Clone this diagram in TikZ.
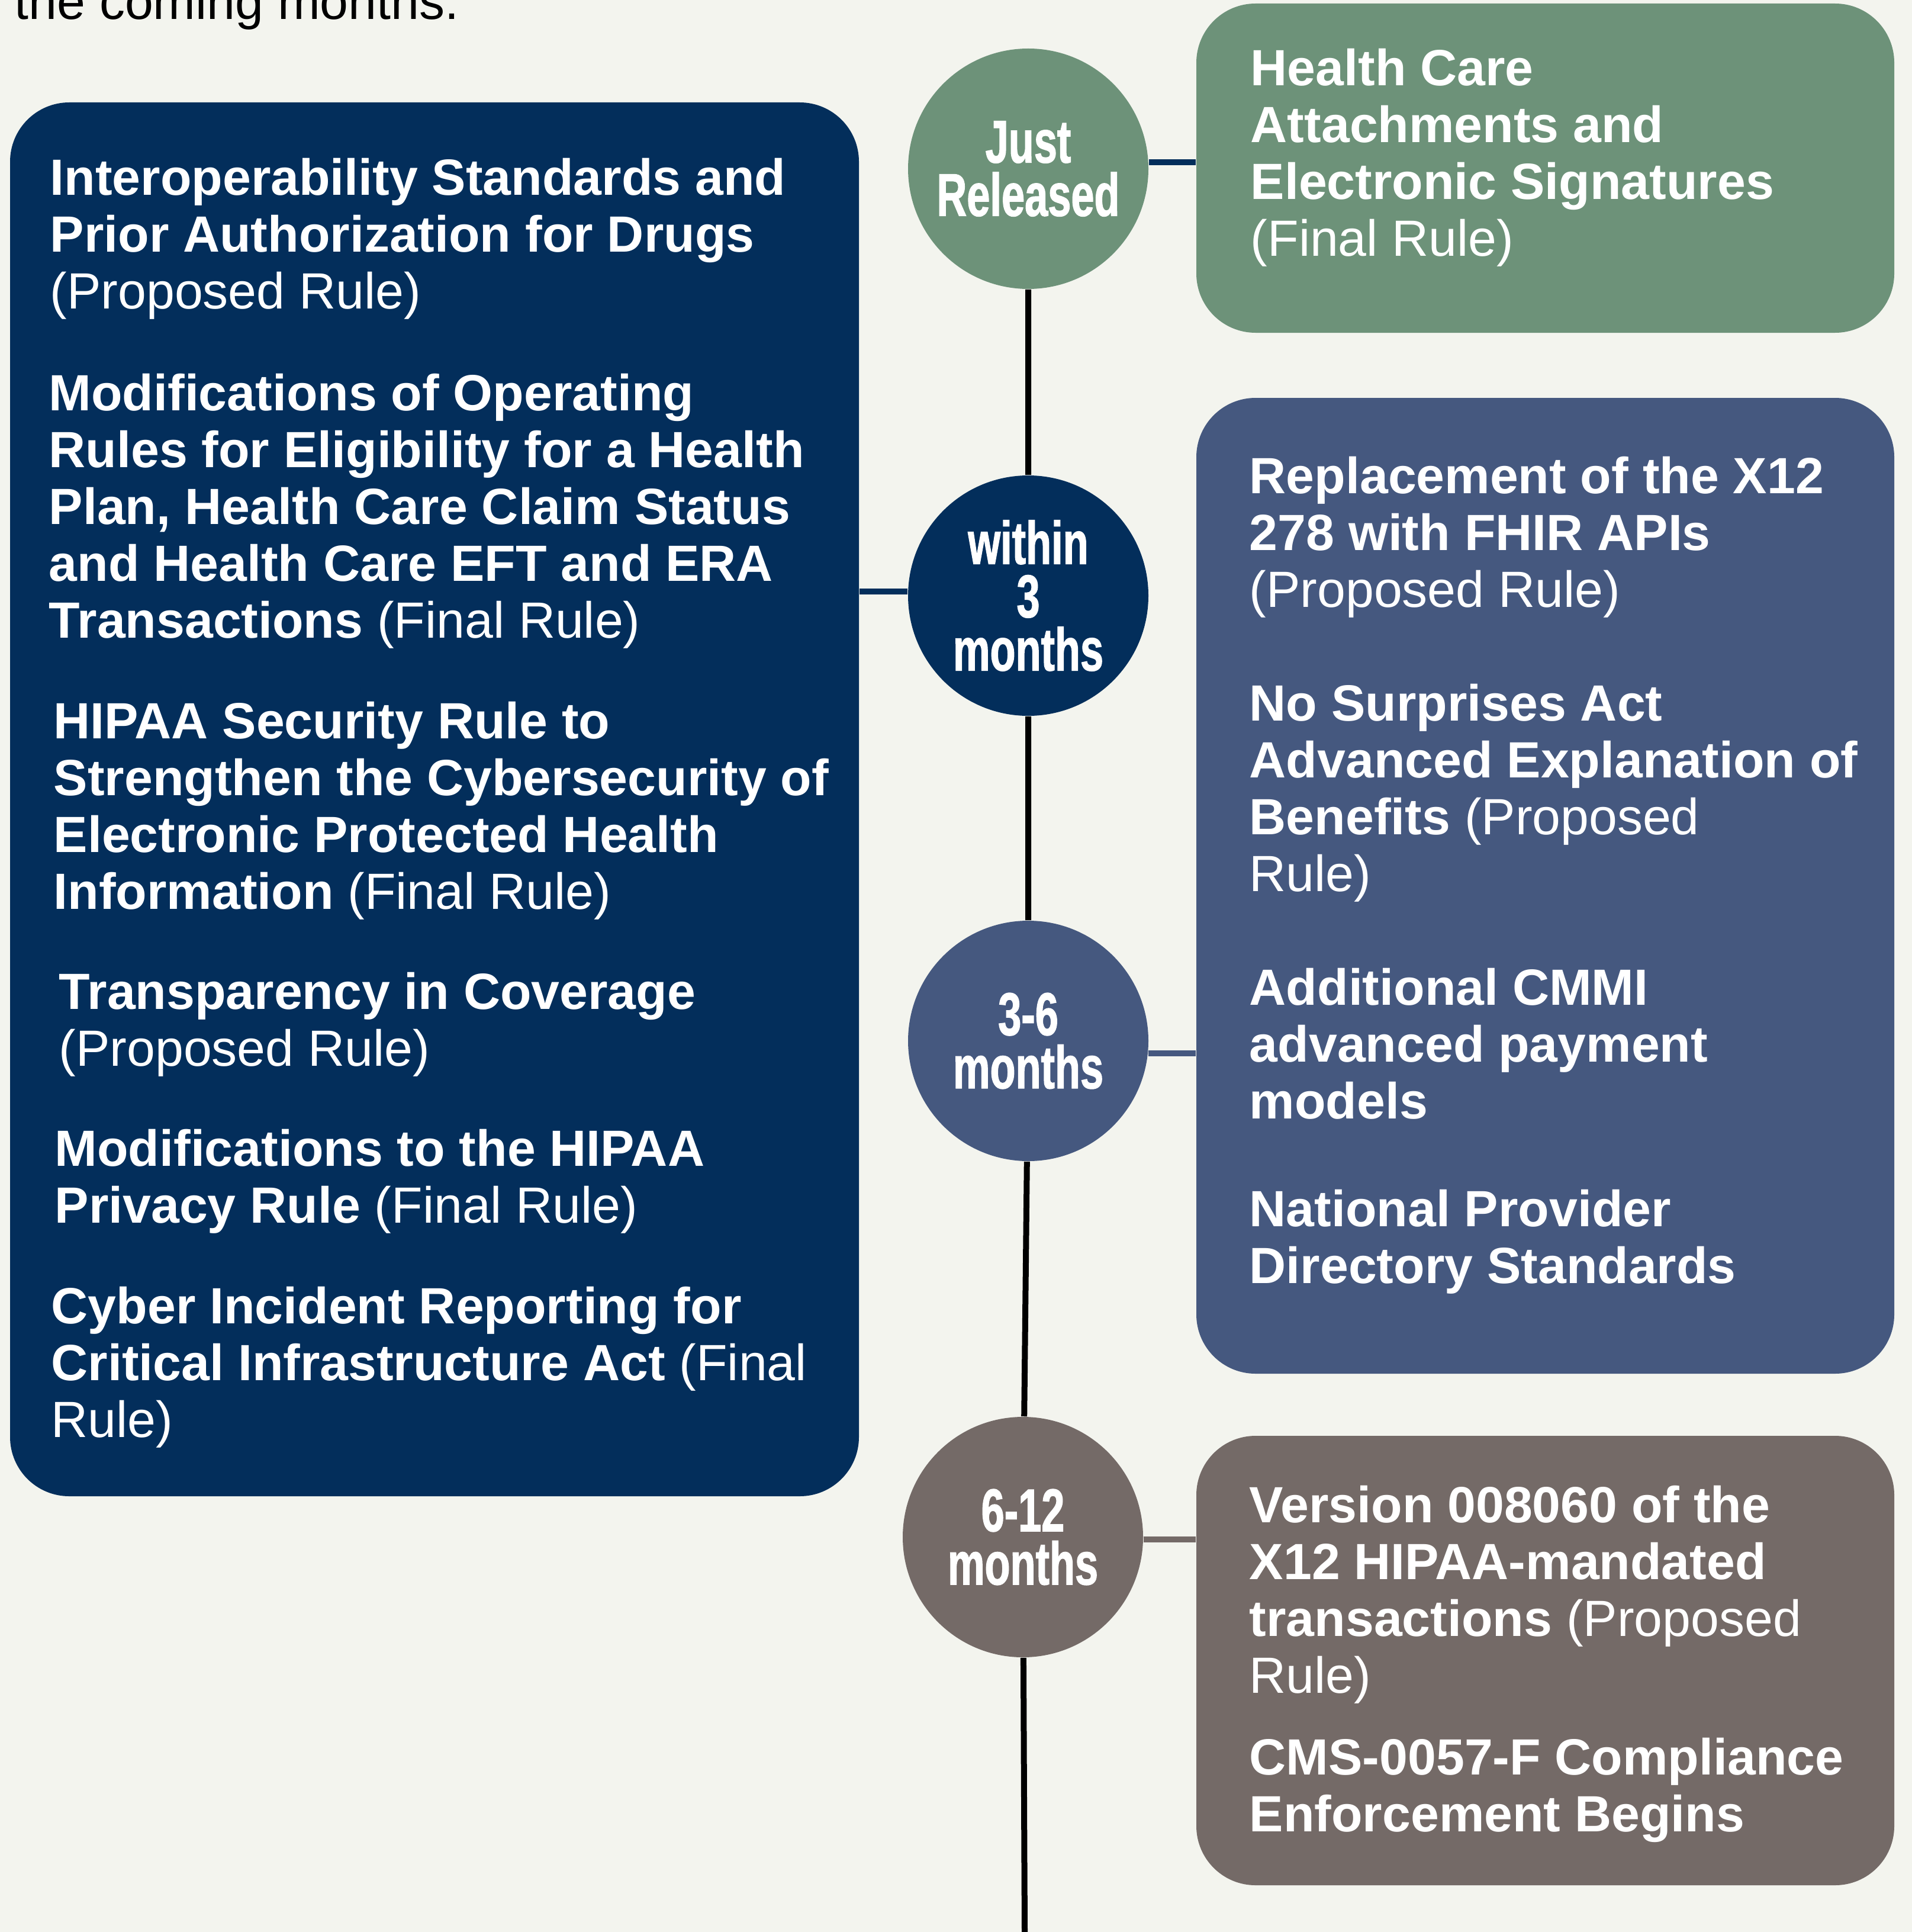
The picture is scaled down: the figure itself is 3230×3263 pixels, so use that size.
\documentclass[tikz,border=0pt]{standalone}
\usepackage{fontspec}
\setmainfont{Liberation Sans}
\newfontfamily\phasefont{Liberation Sans}[FakeStretch=0.69,FakeBold=1.2]
\usetikzlibrary{fit}
\definecolor{paper}{HTML}{F3F4EE}
\definecolor{sage}{HTML}{6D9279}
\definecolor{navy}{HTML}{032E5B}
\definecolor{slate}{HTML}{45587F}
\definecolor{taupe}{HTML}{746A67}
\newcommand{\status}[1]{{\mdseries #1}}
\newcommand{\ruleblock}[1]{\parbox[t]{400pt}{\raggedright #1}}
\begin{document}
\begin{tikzpicture}[x=0.25pt,y=-0.25pt,
  phase/.style={circle,minimum size=101.5pt,inner sep=0pt,text=white,align=center,
    font=\phasefont\bfseries\fontsize{25.5pt}{22.5pt}\selectfont},
  panel/.style={rounded corners=25pt,inner sep=0pt},
  ruletext/.style={anchor=base west,inner sep=0pt,text=white,
    font=\bfseries\fontsize{21.5pt}{24pt}\selectfont},
  link/.style={line width=2.5pt},
  timeline/.style={line width=2.5pt,black}]
\fill[paper] (0,0) rectangle (3230,3263);
\clip (0,0) rectangle (3230,3263);
\node[anchor=base west,inner sep=0pt,font=\fontsize{21.5pt}{24pt}\selectfont] (intro) at (24,33) {the coming months.};
% panels
\node[panel,fill=navy,fit={(17,173) (1451,2527)}] (soonbox) {};
\node[panel,fill=sage,fit={(2021,6) (3200,562)}] (relbox) {};
\node[panel,fill=slate,fit={(2021,672) (3200,2320)}] (midbox) {};
\node[panel,fill=taupe,fit={(2021,2425) (3200,3184)}] (latebox) {};
% timeline
\foreach \name/\col/\x/\y/\txt in {just/sage/1737/285/{Just\\Released},w3/navy/1737/1006/{within\\3\\months},c36/slate/1737/1758/{3-6\\months},c612/taupe/1728/2596/{6-12\\months}}
  \node[phase,fill=\col] (\name) at (\x,\y) {\txt};
\coordinate (tlend) at (1731,3263);
\draw[timeline] (just) -- (w3) -- (c36) -- (c612) -- (tlend);
\draw[link,navy] (just.3) -- (just.3 -| relbox.west);
\draw[link,navy] (w3.178) -- (w3.178 -| soonbox.east);
\draw[link,slate] (c36.-6) -- (c36.-6 -| midbox.west);
\draw[link,taupe] (c612.-1) -- (c612.-1 -| latebox.west);
% within 3 months
\node[ruletext] (prior) at (84,330) {\ruleblock{Interoperability Standards and\\Prior Authorization for Drugs\\\status{(Proposed Rule)}}};
\node[ruletext] (oprules) at (82,693) {\ruleblock{Modifications of Operating\\Rules for Eligibility for a Health\\Plan, Health Care Claim Status\\and Health Care EFT and ERA\\Transactions \status{(Final Rule)}}};
\node[ruletext] (security) at (90,1247) {\ruleblock{HIPAA Security Rule to\\Strengthen the Cybersecurity of\\Electronic Protected Health\\Information \status{(Final Rule)}}};
\node[ruletext] (coverage) at (99,1704) {\ruleblock{Transparency in Coverage\\\status{(Proposed Rule)}}};
\node[ruletext] (privacy) at (92,1969) {\ruleblock{Modifications to the HIPAA\\Privacy Rule \status{(Final Rule)}}};
\node[ruletext] (cyber) at (86,2235) {\ruleblock{Cyber Incident Reporting for\\Critical Infrastructure Act \status{(Final\\Rule)}}};
% just released
\node[ruletext] (attach) at (2112,145) {\ruleblock{Health Care\\Attachments and\\Electronic Signatures\\\status{(Final Rule)}}};
% 3-6 months
\node[ruletext] (fhir) at (2110,833) {\ruleblock{Replacement of the X12\\278 with FHIR APIs\\\status{(Proposed Rule)}}};
\node[ruletext] (aeob) at (2110,1217) {\ruleblock{No Surprises Act\\Advanced Explanation of\\Benefits \status{(Proposed\\Rule)}}};
\node[ruletext] (cmmi) at (2110,1697) {\ruleblock{Additional CMMI\\advanced payment\\models}};
\node[ruletext] (npd) at (2110,2071) {\ruleblock{National Provider\\Directory Standards}};
% 6-12 months
\node[ruletext] (xtwelve) at (2110,2571) {\ruleblock{Version 008060 of the\\X12 HIPAA-mandated\\transactions \status{(Proposed\\Rule)}}};
\node[ruletext] (cms) at (2110,2997) {\ruleblock{CMS-0057-F Compliance\\Enforcement Begins}};
\end{tikzpicture}
\end{document}
